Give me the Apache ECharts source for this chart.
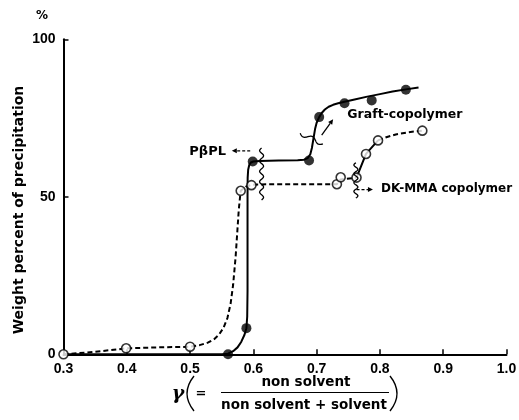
<!DOCTYPE html>
<html>
<head>
<meta charset="utf-8">
<script src="https://cdn.jsdelivr.net/npm/echarts@6/dist/echarts.min.js"></script>
<style>
  html, body { margin: 0; padding: 0; background: #fff; }
  #chart { width: 519px; height: 420px; }
</style>
</head>
<body>
<div id="chart"></div>
<script>
// Axis ticks
const xTicks = [0.3, 0.4, 0.5, 0.6, 0.7, 0.8, 0.9, 1.0];
const yTicks = [0, 50, 100];

// Measured points: graft copolymer (filled circles)
const graftX = [0.56, 0.589, 0.599, 0.688, 0.704, 0.744, 0.787, 0.841];
const graftY = [0, 8.3, 61.2, 61.5, 75.3, 79.7, 80.6, 84.0];

// Measured points: DK-MMA copolymer (open circles)
const dkX = [0.30, 0.399, 0.50, 0.580, 0.597, 0.732, 0.738, 0.763, 0.778, 0.797, 0.867];
const dkY = [0, 1.9, 2.4, 51.9, 53.7, 54.0, 56.2, 56.1, 63.6, 67.9, 71.0];

// Hand-drawn trend curve through the graft copolymer data (solid)
const graftCurveX = [0.30, 0.55, 0.56, 0.568, 0.575, 0.581, 0.586, 0.589, 0.5903, 0.5908, 0.5908, 0.591, 0.5918, 0.5935, 0.596, 0.600, 0.61, 0.64, 0.67, 0.68, 0.686, 0.690, 0.6925, 0.695, 0.6975, 0.700, 0.704, 0.708, 0.713, 0.719, 0.726, 0.734, 0.744, 0.76, 0.78, 0.80, 0.82, 0.841, 0.861];
const graftCurveY = [0, 0, 0.2, 1.0, 2.2, 4.0, 6.2, 8.3, 12, 20, 50, 56, 58.6, 60.1, 60.9, 61.2, 61.4, 61.5, 61.6, 61.8, 62.3, 63.5, 65.5, 68.5, 71.5, 73.5, 75.3, 76.6, 77.7, 78.6, 79.2, 79.7, 80.2, 80.9, 81.8, 82.6, 83.4, 84.1, 84.7];

// Trend curve through the DK-MMA copolymer data: dashed, solid, dashed pieces
const dkCurveAX = [0.30, 0.35, 0.40, 0.45, 0.50, 0.515, 0.528, 0.538, 0.546, 0.553, 0.559, 0.564, 0.568, 0.572, 0.575, 0.577, 0.579, 0.580, 0.588, 0.597, 0.62, 0.68, 0.732, 0.738, 0.763];
const dkCurveAY = [0, 0.8, 1.9, 2.2, 2.4, 2.9, 3.7, 4.8, 6.3, 8.5, 11.5, 16, 22, 31, 40, 46, 50, 51.9, 53.2, 53.8, 54.0, 54.0, 54.0, 55.5, 56.1];
const dkCurveBX = [0.763, 0.778, 0.797];
const dkCurveBY = [56.1, 63.6, 67.9];
const dkCurveCX = [0.797, 0.81, 0.825, 0.845, 0.867];
const dkCurveCY = [67.9, 68.9, 69.8, 70.5, 71.0];

const zip = (xs, ys) => xs.map((x, i) => [x, ys[i]]);

const TXT = 'DejaVu Sans';
const NUM = 'Liberation Sans';

const chart = echarts.init(document.getElementById('chart'), null, { renderer: 'canvas' });

chart.setOption({
  animation: false,
  backgroundColor: '#fff',
  grid: { left: 63.5, right: 12.5, top: 39.3, bottom: 65.7, outerBoundsMode: 'none' },
  xAxis: {
    type: 'value',
    min: xTicks[0], max: xTicks[xTicks.length - 1], interval: 0.1,
    axisLine: { onZero: false, lineStyle: { color: '#000', width: 2 } },
    axisTick: { inside: true, length: 5, lineStyle: { color: '#000', width: 1.5 } },
    axisLabel: { formatter: v => v.toFixed(1), color: '#000', fontFamily: NUM, fontWeight: 'bold', fontSize: 14, margin: 8 },
    splitLine: { show: false }
  },
  yAxis: {
    type: 'value',
    min: yTicks[0], max: yTicks[yTicks.length - 1], interval: 50,
    axisLine: { show: true, onZero: false, lineStyle: { color: '#000', width: 2 } },
    axisTick: { show: true, inside: true, length: 5, lineStyle: { color: '#000', width: 1.5 } },
    axisLabel: { color: '#000', fontFamily: NUM, fontWeight: 'bold', fontSize: 14, margin: 8 },
    splitLine: { show: false }
  },
  series: [
    { type: 'line', data: zip(graftCurveX, graftCurveY), smooth: false, symbol: 'none',
      lineStyle: { color: '#000', width: 2, join: 'round' }, z: 3 },
    { type: 'line', data: zip(dkCurveAX, dkCurveAY), smooth: false, symbol: 'none',
      lineStyle: { color: '#000', width: 2, type: [5, 3] }, z: 2 },
    { type: 'line', data: zip(dkCurveBX, dkCurveBY), smooth: false, symbol: 'none',
      lineStyle: { color: '#000', width: 2 }, z: 2 },
    { type: 'line', data: zip(dkCurveCX, dkCurveCY), smooth: false, symbol: 'none',
      lineStyle: { color: '#000', width: 2, type: [5, 3] }, z: 2 },
    { type: 'scatter', data: zip(dkX, dkY), symbol: 'circle', symbolSize: 9,
      itemStyle: { color: '#fff', borderColor: '#000', borderWidth: 1.6 }, z: 5 },
    { type: 'scatter', data: zip(graftX, graftY), symbol: 'circle', symbolSize: 10,
      itemStyle: { color: '#000', borderColor: '#000', borderWidth: 0 }, z: 6 }
  ]
});

// ---- annotations: break marks, arrows, labels, axis titles ----
const px = (x, y) => chart.convertToPixel({ gridIndex: 0 }, [x, y]);

// wavy break mark between two points
function squiggle(a, b, amp, waves) {
  const dx = b[0] - a[0], dy = b[1] - a[1];
  const len = Math.hypot(dx, dy);
  const nx = -dy / len, ny = dx / len;
  const pts = [];
  const n = 60;
  for (let i = 0; i <= n; i++) {
    const t = i / n;
    const off = amp * Math.sin(t * waves * 2 * Math.PI);
    pts.push([a[0] + dx * t + nx * off, a[1] + dy * t + ny * off]);
  }
  return { type: 'polyline', shape: { points: pts }, style: { stroke: '#000', lineWidth: 1.3, fill: null }, z: 10 };
}

function arrow(a, b, dashed) {
  const ang = Math.atan2(b[1] - a[1], b[0] - a[0]);
  const h = 5, w = 2.5;
  const bx = b[0] - h * Math.cos(ang), by = b[1] - h * Math.sin(ang);
  return [
    { type: 'line', shape: { x1: a[0], y1: a[1], x2: bx, y2: by },
      style: { stroke: '#000', lineWidth: 1.3, lineDash: dashed ? [3, 2] : null }, z: 10 },
    { type: 'polygon', shape: { points: [[b[0], b[1]],
        [bx - w * Math.sin(ang), by + w * Math.cos(ang)],
        [bx + w * Math.sin(ang), by - w * Math.cos(ang)]] },
      style: { fill: '#000' }, z: 10 }
  ];
}

function label(text, p, align, size, extra) {
  return { type: 'text', x: p[0], y: p[1], z: 10,
    style: Object.assign({ text: text, fill: '#000', font: 'bold ' + size + 'px "' + TXT + '"',
      textAlign: align, textVerticalAlign: 'middle' }, extra || {}) };
}

const g = [];
g.push(squiggle(px(0.613, 65.5), px(0.613, 49), 2, 5));
g.push(squiggle(px(0.674, 70.2), px(0.71, 66.8), 2.2, 1.5));
g.push(squiggle(px(0.762, 60.8), px(0.762, 49.6), 2, 4));
g.push(...arrow(px(0.595, 64.6), px(0.566, 64.6), true));
g.push(...arrow(px(0.708, 69.6), px(0.726, 74.6), false));
g.push(...arrow(px(0.763, 52.3), px(0.789, 52.3), true));

g.push(label('PβPL', px(0.5567, 64.2), 'right', 13));
g.push(label('Graft-copolymer', px(0.7485, 75.9), 'left', 12.5));
g.push(label('DK-MMA copolymer', px(0.8016, 52.6), 'left', 12));

// y-axis title and unit
g.push({ type: 'text', x: 19, y: 210, rotation: Math.PI / 2, z: 10,
  style: { text: 'Weight percent of precipitation', fill: '#000', font: 'bold 14px "' + TXT + '"',
    textAlign: 'center', textVerticalAlign: 'middle' } });
g.push(label('%', [42, 16], 'center', 12));

// x-axis title: γ ( = non solvent / (non solvent + solvent) )
g.push({ type: 'text', x: 178, y: 394, z: 10,
  style: { text: 'γ', fill: '#000', font: 'italic bold 19px "DejaVu Serif"', textAlign: 'center', textVerticalAlign: 'middle' } });
// thin tall parentheses
g.push({ type: 'bezierCurve', z: 10,
  shape: { x1: 194, y1: 376, x2: 194, y2: 411, cpx1: 180, cpy1: 393.5 },
  style: { stroke: '#000', lineWidth: 1.4, fill: null } });
g.push({ type: 'bezierCurve', z: 10,
  shape: { x1: 390, y1: 376, x2: 390, y2: 411, cpx1: 404, cpy1: 393.5 },
  style: { stroke: '#000', lineWidth: 1.4, fill: null } });
g.push(label('=', [201, 394], 'center', 13));
g.push(label('non solvent', [306, 382], 'center', 13.5));
g.push({ type: 'line', shape: { x1: 221, y1: 392.5, x2: 389, y2: 392.5 }, style: { stroke: '#000', lineWidth: 1 }, z: 10 });
g.push(label('non solvent + solvent', [304, 405], 'center', 13.5));

chart.setOption({ graphic: g });
</script>
</body>
</html>
